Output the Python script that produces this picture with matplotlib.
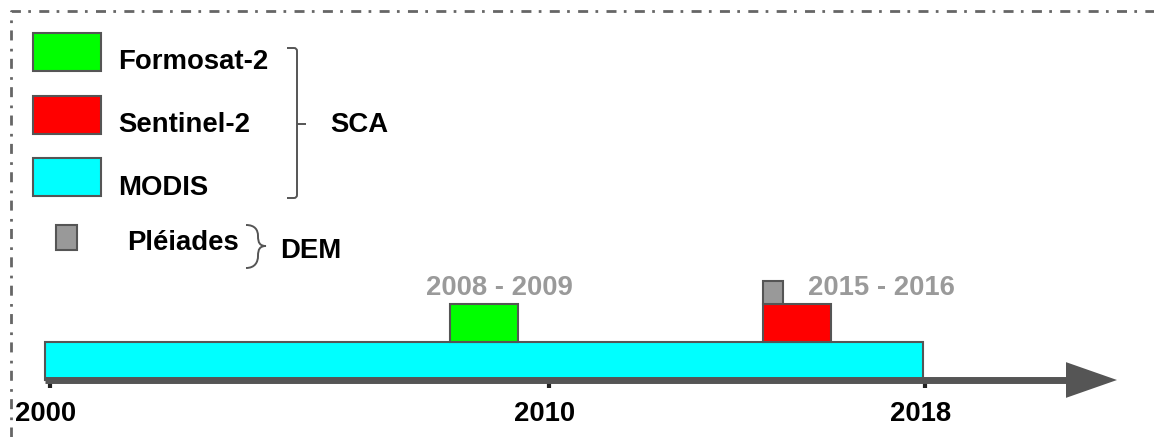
import numpy as np
import matplotlib
matplotlib.use("Agg")
import matplotlib.pyplot as plt
from matplotlib.patches import Rectangle, Polygon, PathPatch
from matplotlib.path import Path
from matplotlib.lines import Line2D
import matplotlib.transforms as mtransforms

# ---------------- data ----------------
sensors = ["MODIS", "Formosat-2", "Sentinel-2", "Pléiades"]
start_year = [1999.9, 2008.02, 2014.55, 2014.55]
end_year = [2017.96, 2009.38, 2016.0, 2014.98]
sensor_colors = ["#00ffff", "#00ff00", "#ff0000", "#999999"]
tick_years = [2000, 2010, 2018]
tick_labels = ["2000", "2010", "2018"]
period_labels = ["2008 - 2009", "2015 - 2016"]
sca_group = ["Formosat-2", "Sentinel-2", "MODIS"]
dem_group = ["Pléiades"]

# ---------------- layout ----------------
W, H = 1154, 437
plt.rcParams["font.family"] = ["Liberation Sans", "DejaVu Sans"]
FS = 19.8
EDGE = "#555555"
fig = plt.figure(figsize=(W / 100, H / 100), dpi=100)
ax = fig.add_axes([0, 0, 1, 1])

# schematic (piecewise-linear) time axis: year -> pixel column
_yr = np.array(tick_years, dtype=float)
_px = np.array([50.0, 549.0, 925.0])


def fwd(x):
    x = np.asarray(x, dtype=float)
    s0 = (_px[1] - _px[0]) / (_yr[1] - _yr[0])
    s1 = (_px[2] - _px[1]) / (_yr[2] - _yr[1])
    return np.where(x <= _yr[1], _px[0] + (x - _yr[0]) * s0, _px[1] + (x - _yr[1]) * s1)


def inv(p):
    p = np.asarray(p, dtype=float)
    s0 = (_px[1] - _px[0]) / (_yr[1] - _yr[0])
    s1 = (_px[2] - _px[1]) / (_yr[2] - _yr[1])
    return np.where(p <= _px[1], _yr[0] + (p - _px[0]) / s0, _yr[1] + (p - _px[1]) / s1)


ax.set_xscale("function", functions=(fwd, inv))
ax.set_xlim(float(inv(0)), float(inv(W)))
ax.set_ylim(-1.5, 10.0)

# row levels (bottom) and heights for each sensor
row_bottom = {"MODIS": 0.0, "Formosat-2": 1.0, "Sentinel-2": 1.0, "Pléiades": 2.0}
row_height = {"MODIS": 1.0, "Formosat-2": 1.0, "Sentinel-2": 1.0, "Pléiades": 0.6}

for name, s, e, c in zip(sensors, start_year, end_year, sensor_colors):
    ax.bar(s, row_height[name], width=e - s, bottom=row_bottom[name], align="edge",
           color=c, edgecolor=EDGE, linewidth=1.5, zorder=3)

# time axis line with arrow
head_base = float(inv(1066))
head_tip = float(inv(1117))
ax.plot([float(inv(45)), head_base], [-0.01, -0.01], color=EDGE, lw=5, solid_capstyle="butt", zorder=4)
ax.add_patch(Polygon([[head_base, 0.47], [head_tip, 0.0], [head_base, -0.47]],
                     closed=True, facecolor=EDGE, edgecolor="none", zorder=4))

# ticks
for sp in ax.spines.values():
    sp.set_visible(False)
ax.spines["bottom"].set_position(("data", 0))
ax.set_xticks(tick_years)
ax.set_xticklabels(tick_labels)
ax.xaxis.set_minor_locator(matplotlib.ticker.NullLocator())
ax.tick_params(axis="x", direction="out", length=6, width=3, color="#222222",
               pad=9, labelsize=FS)
shift = mtransforms.ScaledTranslation(-4 / 100, 0, fig.dpi_scale_trans)
for t in ax.xaxis.get_major_ticks():
    t.label1.set_fontweight("bold")
    t.label1.set_transform(t.label1.get_transform() + shift)
ax.set_yticks([])

# ---------------- annotations in pixel space ----------------
T = mtransforms.Affine2D().scale(1 / W, -1 / H).translate(0, 1) + fig.transFigure

# period labels
ax.text(499, 295, period_labels[0], transform=T, ha="center", va="baseline",
        fontsize=FS, fontweight="bold", color="#9a9a9a")
ax.text(881, 295, period_labels[1], transform=T, ha="center", va="baseline",
        fontsize=FS, fontweight="bold", color="#9a9a9a")

# legend boxes
color_of = dict(zip(sensors, sensor_colors))
box_top = {"Formosat-2": 33, "Sentinel-2": 96, "MODIS": 158}
base_y = {"Formosat-2": 69, "Sentinel-2": 132, "MODIS": 195}
for name in sca_group:
    fig.patches.append(Rectangle((33, box_top[name] + 38), 68, -38, transform=T,
                                 facecolor=color_of[name], edgecolor=EDGE, linewidth=1.5))
    fig.text(118, base_y[name], name, transform=T, ha="left", va="baseline",
             fontsize=FS, fontweight="bold", color="black")
fig.patches.append(Rectangle((56, 250), 21, -25, transform=T,
                             facecolor=color_of["Pléiades"], edgecolor=EDGE, linewidth=1.5))
fig.text(127, 250, dem_group[0], transform=T, ha="left", va="baseline",
         fontsize=FS, fontweight="bold", color="black")

# SCA bracket
br = Path([(287, 48), (294, 48), (297, 48), (297, 51), (297, 195), (297, 198), (294, 198), (287, 198),
           (297, 124), (306, 124)],
          [Path.MOVETO, Path.LINETO, Path.CURVE3, Path.CURVE3, Path.LINETO, Path.CURVE3, Path.CURVE3,
           Path.LINETO, Path.MOVETO, Path.LINETO])
fig.patches.append(PathPatch(br, transform=T, facecolor="none", edgecolor=EDGE, linewidth=1.4))
fig.text(330, 132, "SCA", transform=T, ha="left", va="baseline",
         fontsize=FS, fontweight="bold", color="black")

# DEM curly brace
cb = Path([(246, 225), (255, 225), (258, 230), (258, 236), (258, 243), (260, 246), (266, 246),
           (260, 246), (258, 249), (258, 256), (258, 262), (255, 268), (246, 268)],
          [Path.MOVETO, Path.CURVE4, Path.CURVE4, Path.CURVE4, Path.CURVE4, Path.CURVE4, Path.CURVE4,
           Path.CURVE4, Path.CURVE4, Path.CURVE4, Path.CURVE4, Path.CURVE4, Path.CURVE4])
fig.patches.append(PathPatch(cb, transform=T, facecolor="none", edgecolor=EDGE, linewidth=1.4))
fig.text(280, 258, "DEM", transform=T, ha="left", va="baseline",
         fontsize=FS, fontweight="bold", color="black")

# dash-dot frame (top and left)
fig.lines.append(Line2D([11, 11, W], [H, 11, 11], transform=T, color="#666666", lw=2,
                        linestyle=(0, (3.6, 2.64, 0.97, 3.0)), dash_capstyle="butt"))

fig.savefig("out.png", dpi=100)
